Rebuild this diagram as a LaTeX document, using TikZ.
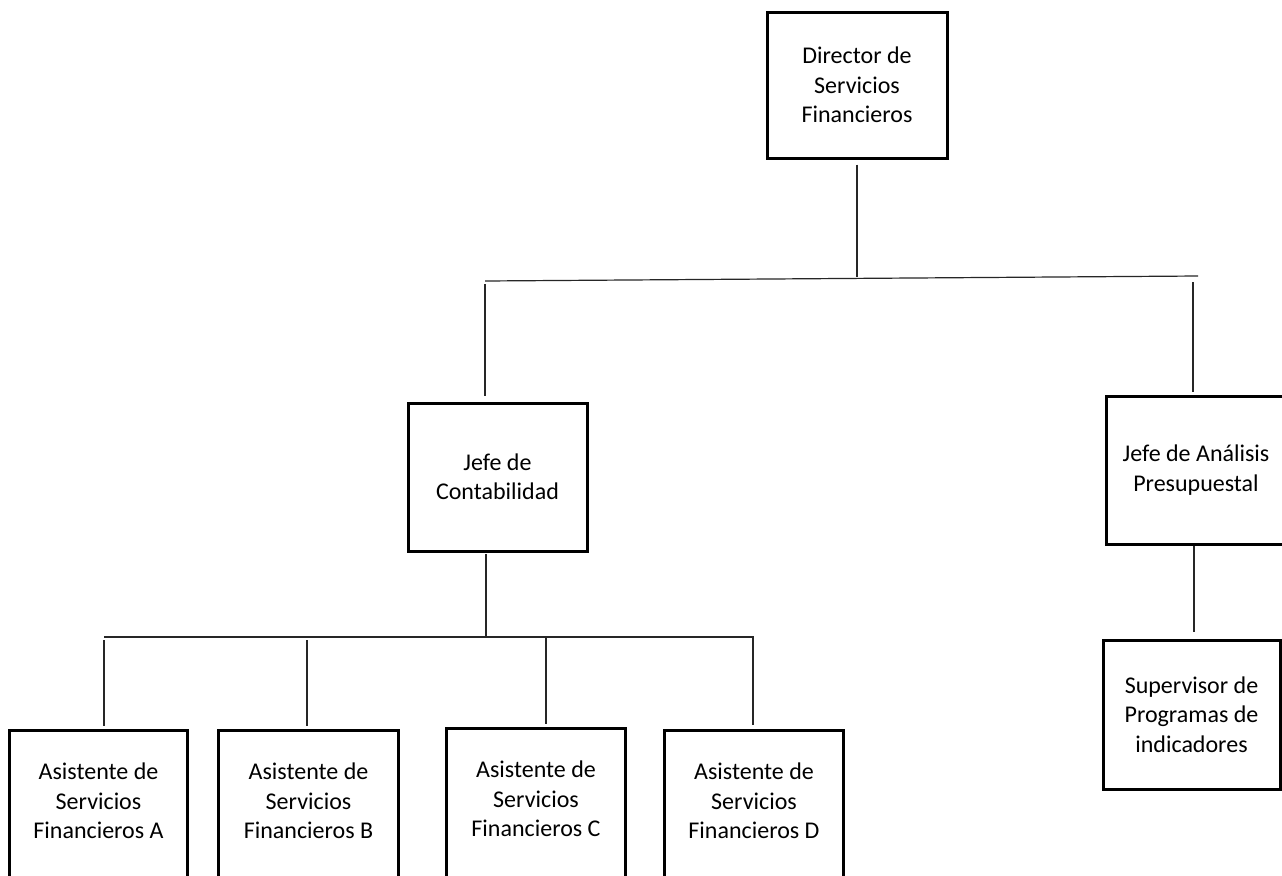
\documentclass[tikz,border=0pt]{standalone}
\usepackage{fontspec}
\setmainfont{Carlito}
\begin{document}
\begin{tikzpicture}[x=0.75pt,y=-0.75pt,
  boxline/.style={line width=2.25pt,black},
  orgbox/.style={draw,boxline,rectangle,inner sep=0pt,align=center,
    font=\fontsize{18}{22}\selectfont},
  openbox/.style={rectangle,inner sep=0pt,align=center,
    minimum width=133pt,minimum height=108pt,
    font=\fontsize{18}{22}\selectfont},
  conn/.style={line width=0.9pt,black!85}]
\useasboundingbox (0,0) rectangle (1282,875);
\clip (0,0) rectangle (1282,875);
\fill[white] (0,0) rectangle (1282,875);

% boxes
\node[orgbox,minimum width=135pt,minimum height=109.5pt] (dir) at (857,85)
  {Director de\\Servicios\\Financieros};
\node[orgbox,minimum width=134.25pt,minimum height=111pt] (conta) at (497.5,477)
  {Jefe de\\Contabilidad};
\node[orgbox,minimum width=135pt,minimum height=111pt] (anal) at (1196,470)
  {Jefe de Análisis\\Presupuestal};
\node[orgbox,minimum width=132.75pt,minimum height=111.75pt] (sup) at (1191.5,714.5)
  {Supervisor de\\Programas de\\indicadores};

\node[openbox,minimum width=132.75pt] (asA) at (98.5,801) {Asistente de\\Servicios\\Financieros A};
\node[openbox,minimum width=134.25pt] (asB) at (308.5,801) {Asistente de\\Servicios\\Financieros B};
\node[openbox,minimum width=133.5pt] (asC) at (536,799) {Asistente de\\Servicios\\Financieros C};
\node[openbox,minimum width=133.5pt] (asD) at (754,801) {Asistente de\\Servicios\\Financieros D};
\foreach \n in {asA,asB,asC,asD}{
  \draw[boxline] ([yshift=-20pt]\n.south west) -- ([yshift=-1pt]\n.north west) -- ([yshift=-1pt]\n.north east) -- ([yshift=-20pt]\n.south east);
}

% coordinates of the buses
\coordinate (b1L) at (485,281);
\coordinate (b1R) at (1198,276);
\coordinate (b1M) at (857,277);
\coordinate (d1) at (485,284);
\coordinate (d2) at (1193,282);
\coordinate (c1) at (486,637);
\coordinate (b2L) at (104,637);
\coordinate (b2R) at (754,637);
\coordinate (dA) at (104,640);
\coordinate (dB) at (307,640);
\coordinate (dC) at (546,638);
\coordinate (dD) at (753,636);
\coordinate (s1) at (1194,546);

% connectors
\draw[conn,shorten <=3.75pt] (dir.south) -- (b1M);
\draw[conn] (b1L) -- (b1R);
\draw[conn,shorten >=4.5pt] (d1) -- (d1 |- conta.north);
\draw[conn,shorten >=2.25pt] (d2) -- (d2 |- anal.north);
\draw[conn,shorten <=1pt] (c1 |- conta.south) -- (c1);
\draw[conn] (b2L) -- (b2R);
\draw[conn,shorten >=2pt] (dA) -- (dA |- asA.north);
\draw[conn,shorten >=2pt] (dB) -- (dB |- asB.north);
\draw[conn,shorten >=2pt] (dC) -- (dC |- asC.north);
\draw[conn,shorten >=3pt] (dD) -- (dD |- asD.north);
\draw[conn,shorten >=5.25pt] (s1) -- (s1 |- sup.north);
\end{tikzpicture}
\end{document}
